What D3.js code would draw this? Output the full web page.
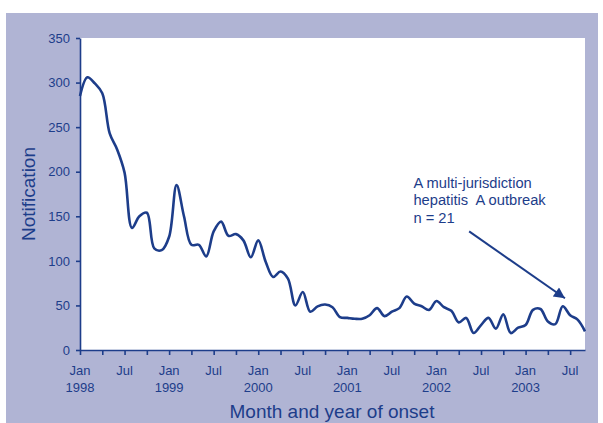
<!DOCTYPE html>
<html>
<head>
<meta charset="utf-8">
<script src="https://cdn.jsdelivr.net/npm/d3@7"></script>
<style>
  body { margin: 0; background: #fff; }
  text { font-family: "Liberation Sans", Arial, sans-serif; fill: #1d3d8a; }
</style>
</head>
<body>
<div id="chart"></div>
<script>
// monthly notifications, Jan 1998 .. Sep 2003
let notifications = [
  285, 306, 299, 288, 243, 225, 199, 137, 150, 154, 114, 112,
  127, 185, 150, 118, 118, 105, 133, 144, 128, 130, 123, 104,
  123, 99, 82, 88, 80, 50, 65, 43, 49, 51, 48, 37,
  36, 35, 35, 39, 47, 38, 43, 47, 60, 52, 49, 45,
  55, 48, 44, 31, 36, 19, 28, 36, 24, 40, 19, 25,
  28, 45, 46, 32, 29, 49, 39, 34, 21
];

let startYear = 1998;
let yTicks = [0, 50, 100, 150, 200, 250, 300, 350];
let monthNames = ["Jan", "Jul"];
let annotationLines = ["A multi-jurisdiction", "hepatitis  A outbreak", "n = 21"];

let color = "#1d3d8a";

let margin = {container_width: 603, container_height: 423, top: 38, right: 18, bottom: 73, left: 80},
    width = margin.container_width - margin.left - margin.right,
    height = margin.container_height - margin.top - margin.bottom;

let root = d3.select("#chart")
    .append("svg")
    .attr("width", margin.container_width)
    .attr("height", margin.container_height);

// lavender frame
root.append("rect")
    .attr("x", 6)
    .attr("y", 13)
    .attr("width", 592)
    .attr("height", 410)
    .attr("fill", "#b0b4d4");

let svg = root.append("g")
    .attr("transform", "translate(" + margin.left + "," + margin.top + ")");

svg.append("rect")
    .attr("width", width)
    .attr("height", height)
    .attr("fill", "#fff");

let x = d3.scaleLinear()
    .domain([0, notifications.length - 1])
    .range([0, width]);

let y = d3.scaleLinear()
    .domain([0, 350])
    .range([height, 0]);

let xAxis = svg.append("g")
    .attr("class", "axis x-axis")
    .attr("transform", "translate(0," + height + ")")
    .call(d3.axisBottom(x)
        .tickValues(d3.range(0, notifications.length, 3))
        .tickSize(5)
        .tickSizeOuter(0)
        .tickFormat(""));

let yAxis = svg.append("g")
    .attr("class", "axis y-axis")
    .call(d3.axisLeft(y)
        .tickValues(yTicks)
        .tickSize(4)
        .tickSizeOuter(0)
        .tickPadding(6));

svg.selectAll(".axis path, .axis line")
    .attr("stroke", color)
    .attr("stroke-width", 1.6);

yAxis.selectAll("text")
    .style("font-size", "13px")
    .attr("fill", color);

// Jan / Jul labels with year underneath
let labelMonths = d3.range(0, notifications.length, 6);
let xLabels = svg.append("g")
    .selectAll("text")
    .data(labelMonths)
    .enter()
    .append("text")
    .attr("text-anchor", "middle")
    .attr("x", function(d) { return x(d); })
    .attr("y", height + 25)
    .style("font-size", "13px");

xLabels.append("tspan")
    .text(function(d) { return monthNames[(d % 12) / 6]; });

xLabels.filter(function(d) { return d % 12 == 0; })
    .append("tspan")
    .attr("x", function(d) { return x(d); })
    .attr("dy", "1.3em")
    .text(function(d) { return startYear + d / 12; });

let line = d3.line()
    .x(function(d, i) { return x(i); })
    .y(function(d) { return y(d); })
    .curve(d3.curveCatmullRom.alpha(0.5));

svg.append("path")
    .datum(notifications)
    .attr("fill", "none")
    .attr("stroke", color)
    .attr("stroke-width", 2.6)
    .attr("stroke-linejoin", "round")
    .attr("d", line);

// axis titles
root.append("text")
    .attr("text-anchor", "middle")
    .attr("transform", "translate(35," + (margin.top + height / 2) + ") rotate(-90)")
    .style("font-size", "19px")
    .text("Notification");

root.append("text")
    .attr("text-anchor", "middle")
    .attr("x", 332)
    .attr("y", 418)
    .style("font-size", "19px")
    .text("Month and year of onset");

// annotation
let note = {month: 44.9, value: 182, arrowFrom: [52.4, 133], arrowTo: [65.3, 58]};

root.append("defs").append("marker")
    .attr("id", "arrow")
    .attr("viewBox", "0 0 10 10")
    .attr("refX", 10)
    .attr("refY", 5)
    .attr("markerUnits", "userSpaceOnUse")
    .attr("markerWidth", 13)
    .attr("markerHeight", 11)
    .attr("orient", "auto")
    .append("path")
    .attr("d", "M0,0L10,5L0,10Z")
    .attr("fill", color);

svg.append("g")
    .selectAll("text")
    .data(annotationLines)
    .enter()
    .append("text")
    .attr("x", x(note.month))
    .attr("y", function(d, i) { return y(note.value) + i * 17.5; })
    .style("font-size", "14.7px")
    .style("white-space", "pre")
    .attr("xml:space", "preserve")
    .text(function(d) { return d; });

svg.append("line")
    .attr("x1", x(note.arrowFrom[0]))
    .attr("y1", y(note.arrowFrom[1]))
    .attr("x2", x(note.arrowTo[0]))
    .attr("y2", y(note.arrowTo[1]))
    .attr("stroke", color)
    .attr("stroke-width", 2)
    .attr("marker-end", "url(#arrow)");
</script>
</body>
</html>
